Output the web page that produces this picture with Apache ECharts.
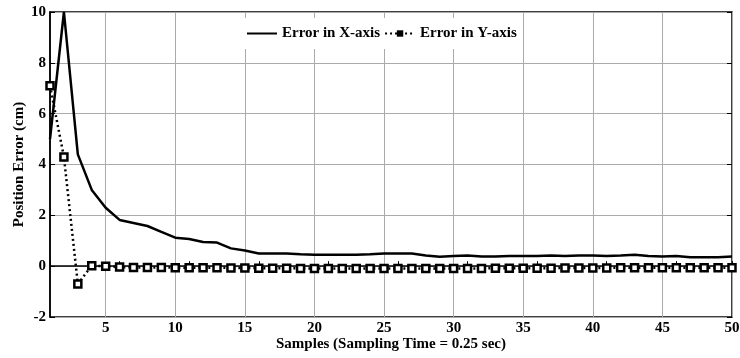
<!DOCTYPE html>
<html>
<head>
<meta charset="utf-8">
<script src="https://cdn.jsdelivr.net/npm/echarts@6/dist/echarts.min.js"></script>
<style>
  html, body { margin: 0; padding: 0; background: #fff; }
  #chart { width: 740px; height: 358px; }
</style>
</head>
<body>
<div id="chart"></div>
<script>
/* ---------------- DATA ---------------- */

const SAMPLES = Array.from({ length: 50 }, (_, i) => i + 1);

const ERROR_X = [
  5.0, 10.0, 4.4, 3.0, 2.3, 1.82, 1.7, 1.58, 1.35, 1.12,
  1.07, 0.95, 0.93, 0.7, 0.62, 0.5, 0.5, 0.5, 0.47, 0.45,
  0.45, 0.45, 0.45, 0.47, 0.5, 0.5, 0.5, 0.42, 0.37, 0.4,
  0.42, 0.38, 0.38, 0.4, 0.4, 0.4, 0.42, 0.4, 0.42, 0.42,
  0.4, 0.42, 0.45, 0.4, 0.38, 0.4, 0.35, 0.35, 0.35, 0.38,
];

const ERROR_Y = [
  7.1, 4.3, -0.7, 0.02, 0.0, -0.03, -0.05, -0.05, -0.05, -0.06,
  -0.06, -0.06, -0.06, -0.07, -0.07, -0.08, -0.08, -0.08, -0.09, -0.09,
  -0.09, -0.09, -0.09, -0.09, -0.09, -0.09, -0.09, -0.09, -0.09, -0.09,
  -0.09, -0.09, -0.08, -0.08, -0.08, -0.08, -0.08, -0.07, -0.07, -0.07,
  -0.07, -0.06, -0.06, -0.06, -0.06, -0.06, -0.06, -0.06, -0.06, -0.06,
];

const X_TICKS = [5, 10, 15, 20, 25, 30, 35, 40, 45, 50];

const FONT = "'Liberation Serif', 'Times New Roman', serif";

/* ---------------- CHART ---------------- */

const chart = echarts.init(document.getElementById("chart"));

const tickLabel = {
  fontFamily: FONT,
  fontWeight: "bold",
  fontSize: 15,
  color: "#000",
};

chart.setOption({
  animation: false,
  grid: {
    left: 50,
    right: 8,
    top: 12,
    bottom: 41,
    outerBoundsMode: "none",
    show: true,
    borderColor: "#000",
    borderWidth: 1.5,
  },
  legend: {
    top: 18,
    left: 242,
    itemWidth: 30,
    itemHeight: 8,
    itemGap: 4,
    padding: [8, 4],
    backgroundColor: "#fff",
    textStyle: {
      fontFamily: FONT,
      fontWeight: "bold",
      fontSize: 15,
      color: "#000",
    },
    data: [
      { name: "Error in X-axis", itemStyle: { opacity: 0 } },
      { name: "Error in Y-axis", itemStyle: { color: "#000", borderWidth: 0 } },
    ],
  },
  xAxis: [
    {
      type: "value",
      min: 1,
      max: 50,
      interval: 5,
      name: "Samples (Sampling Time = 0.25 sec)",
      nameLocation: "middle",
      nameGap: 20,
      nameMoveOverlap: false,
      nameTextStyle: { ...tickLabel },
      axisLine: { show: true, lineStyle: { color: "#000", width: 1.5 } },
      axisTick: { show: true, inside: true, length: 5, lineStyle: { color: "#000" } },
      axisLabel: { ...tickLabel, margin: 4, customValues: X_TICKS },
      splitLine: { show: false },
    },
    {
      type: "value",
      position: "top",
      min: 1,
      max: 50,
      axisLine: { show: false },
      axisTick: {
        show: true,
        inside: true,
        length: 5,
        lineStyle: { color: "#000" },
        customValues: X_TICKS,
      },
      axisLabel: { show: false },
      splitLine: {
        show: true,
        lineStyle: { color: "#aaa", width: 1 },
        customValues: X_TICKS.slice(0, -1),
      },
    },
  ],
  yAxis: [
    {
      type: "value",
      min: -2,
      max: 10,
      interval: 2,
      name: "Position Error (cm)",
      nameLocation: "middle",
      nameGap: 23,
      nameMoveOverlap: false,
      nameTextStyle: { ...tickLabel },
      axisLine: { show: true, lineStyle: { color: "#000", width: 1.5 } },
      axisTick: { show: true, inside: true, length: 5, lineStyle: { color: "#000" } },
      axisLabel: { ...tickLabel, margin: 4 },
      splitLine: { show: true, lineStyle: { color: "#aaa", width: 1 } },
    },
    {
      type: "value",
      position: "right",
      min: -2,
      max: 10,
      interval: 2,
      axisLine: { show: false },
      axisTick: { show: true, inside: true, length: 5, lineStyle: { color: "#000" } },
      axisLabel: { show: false },
      splitLine: { show: false },
    },
  ],
  series: [
    {
      name: "Error in X-axis",
      type: "line",
      data: SAMPLES.map((s, i) => [s, ERROR_X[i]]),
      symbol: "none",
      lineStyle: { color: "#000", width: 2.5 },
      itemStyle: { color: "#000" },
      z: 3,
    },
    {
      name: "Error in Y-axis",
      type: "line",
      data: SAMPLES.map((s, i) => [s, ERROR_Y[i]]),
      symbol: "rect",
      symbolSize: 7,
      lineStyle: { color: "#000", width: 2.5, type: [2, 3] },
      itemStyle: { color: "#fff", borderColor: "#000", borderWidth: 2.5 },
      z: 2,
    },
  ],
});
</script>
</body>
</html>
